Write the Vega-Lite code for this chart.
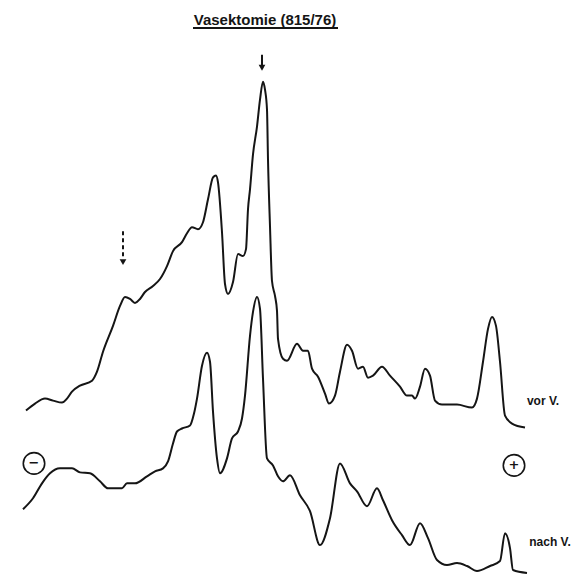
{
  "$schema": "https://vega.github.io/schema/vega-lite/v6.json",
  "width": 584,
  "height": 577,
  "autosize": {"type": "fit", "contains": "padding"},
  "padding": 0,
  "background": "white",
  "config": {"view": {"stroke": null}},
  "datasets": {
    "traces": [
      {"series": "vor", "x": 26, "y": 412}, {"series": "vor", "x": 35, "y": 405}, {"series": "vor", "x": 45, "y": 400},
      {"series": "vor", "x": 53, "y": 402}, {"series": "vor", "x": 62, "y": 404}, {"series": "vor", "x": 67, "y": 400},
      {"series": "vor", "x": 72, "y": 393}, {"series": "vor", "x": 80, "y": 387}, {"series": "vor", "x": 92, "y": 382},
      {"series": "vor", "x": 97, "y": 373}, {"series": "vor", "x": 103, "y": 353}, {"series": "vor", "x": 113, "y": 327},
      {"series": "vor", "x": 120, "y": 307}, {"series": "vor", "x": 125, "y": 298}, {"series": "vor", "x": 130, "y": 300},
      {"series": "vor", "x": 135, "y": 304}, {"series": "vor", "x": 140, "y": 300}, {"series": "vor", "x": 145, "y": 293},
      {"series": "vor", "x": 153, "y": 287}, {"series": "vor", "x": 160, "y": 280}, {"series": "vor", "x": 167, "y": 267},
      {"series": "vor", "x": 173, "y": 252}, {"series": "vor", "x": 182, "y": 243}, {"series": "vor", "x": 187, "y": 234},
      {"series": "vor", "x": 192, "y": 228}, {"series": "vor", "x": 198, "y": 230}, {"series": "vor", "x": 203, "y": 223},
      {"series": "vor", "x": 208, "y": 200}, {"series": "vor", "x": 213, "y": 178}, {"series": "vor", "x": 216, "y": 176},
      {"series": "vor", "x": 218, "y": 183}, {"series": "vor", "x": 222, "y": 233}, {"series": "vor", "x": 225, "y": 285},
      {"series": "vor", "x": 228, "y": 295}, {"series": "vor", "x": 233, "y": 283}, {"series": "vor", "x": 238, "y": 255},
      {"series": "vor", "x": 243, "y": 257}, {"series": "vor", "x": 246, "y": 250}, {"series": "vor", "x": 248, "y": 210},
      {"series": "vor", "x": 250, "y": 190}, {"series": "vor", "x": 253, "y": 155}, {"series": "vor", "x": 257, "y": 127},
      {"series": "vor", "x": 260, "y": 100}, {"series": "vor", "x": 263, "y": 82}, {"series": "vor", "x": 265, "y": 90},
      {"series": "vor", "x": 267, "y": 110}, {"series": "vor", "x": 268, "y": 160}, {"series": "vor", "x": 270, "y": 227},
      {"series": "vor", "x": 272, "y": 282}, {"series": "vor", "x": 275, "y": 297}, {"series": "vor", "x": 277, "y": 312},
      {"series": "vor", "x": 278, "y": 340}, {"series": "vor", "x": 283, "y": 360}, {"series": "vor", "x": 287, "y": 362},
      {"series": "vor", "x": 297, "y": 345}, {"series": "vor", "x": 303, "y": 352}, {"series": "vor", "x": 308, "y": 352},
      {"series": "vor", "x": 312, "y": 370}, {"series": "vor", "x": 318, "y": 378}, {"series": "vor", "x": 325, "y": 395},
      {"series": "vor", "x": 329, "y": 405}, {"series": "vor", "x": 335, "y": 397}, {"series": "vor", "x": 340, "y": 373},
      {"series": "vor", "x": 347, "y": 346}, {"series": "vor", "x": 352, "y": 352}, {"series": "vor", "x": 358, "y": 370},
      {"series": "vor", "x": 363, "y": 368}, {"series": "vor", "x": 368, "y": 379}, {"series": "vor", "x": 373, "y": 377},
      {"series": "vor", "x": 382, "y": 368}, {"series": "vor", "x": 390, "y": 377}, {"series": "vor", "x": 400, "y": 388},
      {"series": "vor", "x": 407, "y": 397}, {"series": "vor", "x": 412, "y": 397}, {"series": "vor", "x": 415, "y": 400},
      {"series": "vor", "x": 420, "y": 388}, {"series": "vor", "x": 425, "y": 370}, {"series": "vor", "x": 430, "y": 377},
      {"series": "vor", "x": 435, "y": 402}, {"series": "vor", "x": 442, "y": 406}, {"series": "vor", "x": 457, "y": 406},
      {"series": "vor", "x": 472, "y": 409}, {"series": "vor", "x": 477, "y": 400}, {"series": "vor", "x": 483, "y": 363},
      {"series": "vor", "x": 488, "y": 330}, {"series": "vor", "x": 492, "y": 318}, {"series": "vor", "x": 496, "y": 327},
      {"series": "vor", "x": 500, "y": 363}, {"series": "vor", "x": 505, "y": 417}, {"series": "vor", "x": 512, "y": 425},
      {"series": "vor", "x": 525, "y": 429},

      {"series": "nach", "x": 23, "y": 511}, {"series": "nach", "x": 33, "y": 500}, {"series": "nach", "x": 42, "y": 485},
      {"series": "nach", "x": 50, "y": 475}, {"series": "nach", "x": 60, "y": 470}, {"series": "nach", "x": 72, "y": 470},
      {"series": "nach", "x": 80, "y": 474}, {"series": "nach", "x": 90, "y": 475}, {"series": "nach", "x": 100, "y": 483},
      {"series": "nach", "x": 108, "y": 490}, {"series": "nach", "x": 122, "y": 490}, {"series": "nach", "x": 127, "y": 485},
      {"series": "nach", "x": 135, "y": 485}, {"series": "nach", "x": 147, "y": 478}, {"series": "nach", "x": 155, "y": 473},
      {"series": "nach", "x": 163, "y": 470}, {"series": "nach", "x": 168, "y": 463}, {"series": "nach", "x": 173, "y": 445},
      {"series": "nach", "x": 177, "y": 433}, {"series": "nach", "x": 182, "y": 430}, {"series": "nach", "x": 190, "y": 427},
      {"series": "nach", "x": 194, "y": 415}, {"series": "nach", "x": 197, "y": 400}, {"series": "nach", "x": 202, "y": 367},
      {"series": "nach", "x": 207, "y": 354}, {"series": "nach", "x": 210, "y": 363}, {"series": "nach", "x": 213, "y": 413},
      {"series": "nach", "x": 217, "y": 460}, {"series": "nach", "x": 220, "y": 475}, {"series": "nach", "x": 227, "y": 460},
      {"series": "nach", "x": 232, "y": 440}, {"series": "nach", "x": 238, "y": 433}, {"series": "nach", "x": 242, "y": 420},
      {"series": "nach", "x": 245, "y": 397}, {"series": "nach", "x": 250, "y": 337}, {"series": "nach", "x": 253, "y": 313},
      {"series": "nach", "x": 257, "y": 298}, {"series": "nach", "x": 260, "y": 310}, {"series": "nach", "x": 263, "y": 380},
      {"series": "nach", "x": 267, "y": 460}, {"series": "nach", "x": 273, "y": 467}, {"series": "nach", "x": 278, "y": 478},
      {"series": "nach", "x": 283, "y": 483}, {"series": "nach", "x": 290, "y": 477}, {"series": "nach", "x": 300, "y": 497},
      {"series": "nach", "x": 310, "y": 513}, {"series": "nach", "x": 320, "y": 547}, {"series": "nach", "x": 330, "y": 520},
      {"series": "nach", "x": 340, "y": 465}, {"series": "nach", "x": 350, "y": 485}, {"series": "nach", "x": 357, "y": 493},
      {"series": "nach", "x": 367, "y": 508}, {"series": "nach", "x": 377, "y": 490}, {"series": "nach", "x": 383, "y": 502},
      {"series": "nach", "x": 392, "y": 522}, {"series": "nach", "x": 402, "y": 537}, {"series": "nach", "x": 410, "y": 547},
      {"series": "nach", "x": 420, "y": 525}, {"series": "nach", "x": 428, "y": 540}, {"series": "nach", "x": 437, "y": 562},
      {"series": "nach", "x": 447, "y": 567}, {"series": "nach", "x": 457, "y": 565}, {"series": "nach", "x": 467, "y": 568},
      {"series": "nach", "x": 477, "y": 573}, {"series": "nach", "x": 490, "y": 568}, {"series": "nach", "x": 500, "y": 563},
      {"series": "nach", "x": 505, "y": 535}, {"series": "nach", "x": 510, "y": 550}, {"series": "nach", "x": 513, "y": 572},
      {"series": "nach", "x": 527, "y": 575}
    ],
    "arrows": [
      {"kind": "solid", "x": 262, "y": 55, "y2": 66, "tip": 68},
      {"kind": "dashed", "x": 123, "y": 232, "y2": 260, "tip": 263}
    ],
    "poles": [
      {"x": 34, "y": 465, "sign": "−"},
      {"x": 514, "y": 467, "sign": "+"}
    ],
    "labels": [
      {"x": 543, "y": 402, "text": "vor V."},
      {"x": 550, "y": 544, "text": "nach V."}
    ],
    "heading": [
      {"x": 265, "y": 20, "x1": 193, "x2": 338, "ul": 28, "text": "Vasektomie (815/76)"}
    ]
  },
  "layer": [
    {
      "data": {"name": "traces"},
      "mark": {"type": "line", "color": "#151515", "strokeWidth": 2, "interpolate": "monotone"},
      "encoding": {
        "x": {"field": "x", "type": "quantitative", "scale": {"domain": [0, 584], "nice": false, "zero": false}, "axis": null},
        "y": {"field": "y", "type": "quantitative", "scale": {"domain": [0, 577], "reverse": true, "nice": false, "zero": false}, "axis": null},
        "detail": {"field": "series"}
      }
    },
    {
      "data": {"name": "arrows"},
      "transform": [{"filter": "datum.kind == 'solid'"}],
      "mark": {"type": "rule", "color": "#151515", "strokeWidth": 2},
      "encoding": {
        "x": {"field": "x", "type": "quantitative"},
        "y": {"field": "y", "type": "quantitative"},
        "y2": {"field": "y2"}
      }
    },
    {
      "data": {"name": "arrows"},
      "transform": [{"filter": "datum.kind == 'dashed'"}],
      "mark": {"type": "rule", "color": "#151515", "strokeWidth": 2, "strokeDash": [4, 3]},
      "encoding": {
        "x": {"field": "x", "type": "quantitative"},
        "y": {"field": "y", "type": "quantitative"},
        "y2": {"field": "y2"}
      }
    },
    {
      "data": {"name": "arrows"},
      "mark": {"type": "point", "shape": "triangle-down", "filled": true, "color": "#151515", "size": 45, "opacity": 1},
      "encoding": {
        "x": {"field": "x", "type": "quantitative"},
        "y": {"field": "tip", "type": "quantitative"}
      }
    },
    {
      "data": {"name": "poles"},
      "mark": {"type": "point", "shape": "circle", "filled": false, "color": "#151515", "strokeWidth": 1.6, "size": 460, "opacity": 1},
      "encoding": {
        "x": {"field": "x", "type": "quantitative"},
        "y": {"field": "y", "type": "quantitative"}
      }
    },
    {
      "data": {"name": "poles"},
      "mark": {"type": "text", "font": "DejaVu Sans", "fontWeight": "bold", "fontSize": 13, "color": "#151515", "align": "center", "baseline": "middle"},
      "encoding": {
        "x": {"field": "x", "type": "quantitative"},
        "y": {"field": "y", "type": "quantitative"},
        "text": {"field": "sign"}
      }
    },
    {
      "data": {"name": "labels"},
      "mark": {"type": "text", "font": "Liberation Sans", "fontWeight": "bold", "fontSize": 12, "color": "#151515", "align": "center", "baseline": "middle"},
      "encoding": {
        "x": {"field": "x", "type": "quantitative"},
        "y": {"field": "y", "type": "quantitative"},
        "text": {"field": "text"}
      }
    },
    {
      "data": {"name": "heading"},
      "mark": {"type": "text", "font": "Liberation Sans", "fontWeight": "bold", "fontSize": 15, "color": "#151515", "align": "center", "baseline": "middle"},
      "encoding": {
        "x": {"field": "x", "type": "quantitative"},
        "y": {"field": "y", "type": "quantitative"},
        "text": {"field": "text"}
      }
    },
    {
      "data": {"name": "heading"},
      "mark": {"type": "rule", "color": "#151515", "strokeWidth": 2},
      "encoding": {
        "x": {"field": "x1", "type": "quantitative"},
        "x2": {"field": "x2"},
        "y": {"field": "ul", "type": "quantitative"}
      }
    }
  ]
}
